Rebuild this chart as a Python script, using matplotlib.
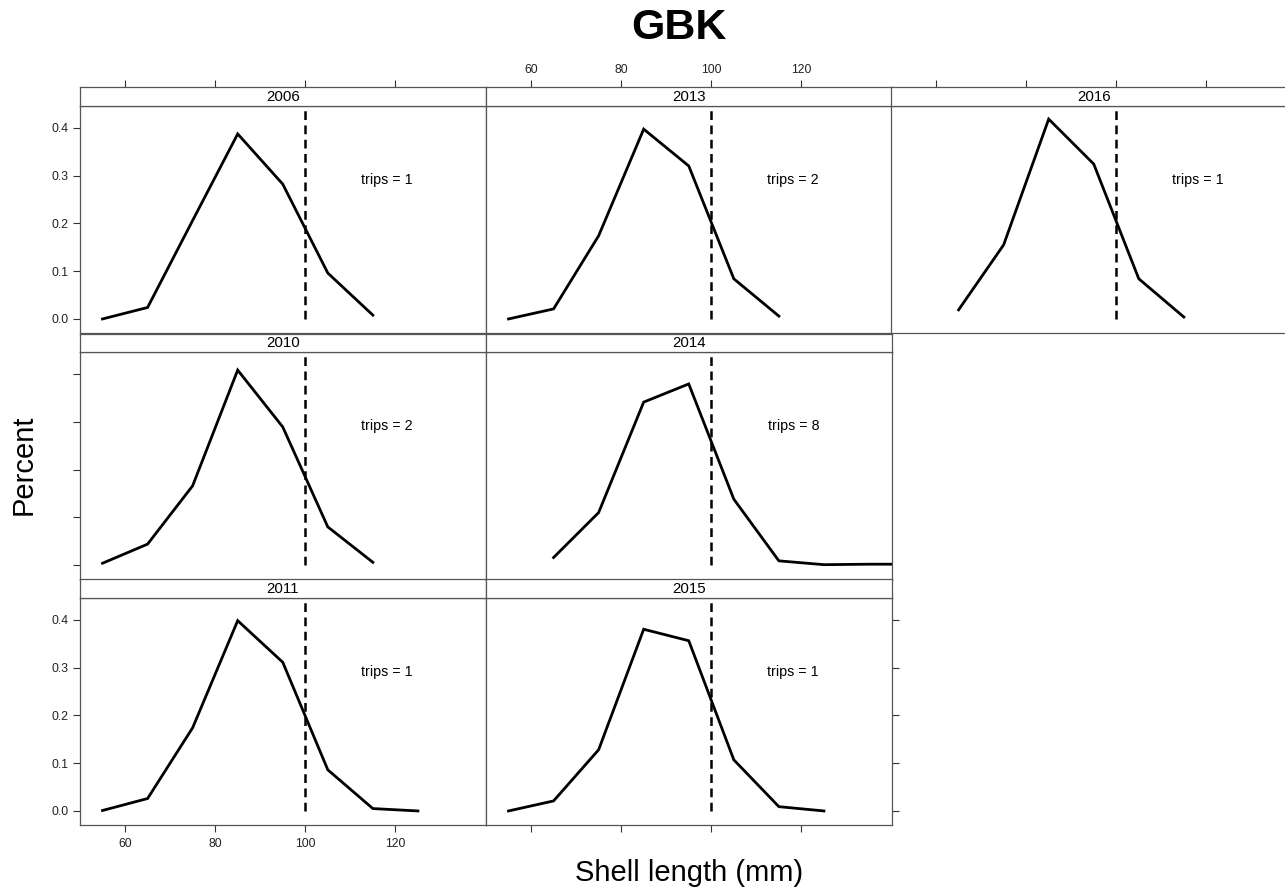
import numpy as np
import matplotlib
matplotlib.use("Agg")
from matplotlib import pyplot as plt

plt.rcParams['font.family'] = ['Liberation Sans', 'DejaVu Sans']

# shell length bin midpoints (mm) and proportion per year
len_2006 = [55, 65, 75, 85, 95, 105, 115]
pct_2006 = [0.000, 0.024, 0.206, 0.387, 0.282, 0.096, 0.008]
len_2010 = [55, 65, 75, 85, 95, 105, 115]
pct_2010 = [0.004, 0.044, 0.166, 0.408, 0.289, 0.080, 0.006]
len_2011 = [55, 65, 75, 85, 95, 105, 115, 125]
pct_2011 = [0.001, 0.026, 0.174, 0.398, 0.311, 0.086, 0.005, 0.000]
len_2013 = [55, 65, 75, 85, 95, 105, 115]
pct_2013 = [0.000, 0.021, 0.174, 0.397, 0.320, 0.084, 0.006]
len_2014 = [65, 75, 85, 95, 105, 115, 125, 135, 145]
pct_2014 = [0.016, 0.110, 0.341, 0.379, 0.138, 0.009, 0.001, 0.002, 0.002]
len_2015 = [55, 65, 75, 85, 95, 105, 115, 125]
pct_2015 = [0.000, 0.021, 0.128, 0.380, 0.356, 0.107, 0.009, 0.000]
len_2016 = [65, 75, 85, 95, 105, 115]
pct_2016 = [0.019, 0.155, 0.418, 0.324, 0.084, 0.004]

years = ["2006", "2010", "2011", "2013", "2014", "2015", "2016"]
trips = [1, 2, 1, 2, 8, 1, 1]
lengths = [len_2006, len_2010, len_2011, len_2013, len_2014, len_2015, len_2016]
pcts = [pct_2006, pct_2010, pct_2011, pct_2013, pct_2014, pct_2015, pct_2016]
# (column, row) of each panel, lattice order
cells = [(0, 0), (0, 1), (0, 2), (1, 0), (1, 1), (1, 2), (2, 0)]

x_ticks = [60, 80, 100, 120]
y_ticks = [0.0, 0.1, 0.2, 0.3, 0.4]
cutoff = 100

W, H = 1285, 894
fig = plt.figure(figsize=(W / 100, H / 100), dpi=100)


def box(l, t, w, h):
    return [l / W, 1 - (t + h) / H, w / W, h / H]


col_left = [80, 486, 891]
col_w = 405.5
strip_top = [87.3, 333.5, 579.3]
strip_h = 18.4
panel_h = 227.6
frame_col = '#555555'
tick_kw = dict(direction='out', length=5, width=0.8, color='#333333',
               labelsize=8.8, labelcolor='#222222')

for i, (c, r) in enumerate(cells):
    ax = fig.add_axes(box(col_left[c], strip_top[r] + strip_h, col_w, panel_h))
    st = fig.add_axes(box(col_left[c], strip_top[r], col_w, strip_h))

    ax.plot(lengths[i], pcts[i], color='black', lw=2.0, solid_joinstyle='miter')
    ax.plot([cutoff, cutoff], [0, 0.5], color='black', lw=1.8,
            dashes=(3.5, 2.2))
    ax.text(118.2, 0.29, "trips = %d" % trips[i], ha='center', va='center',
            fontsize=10.3)
    ax.set_xlim(50, 140)
    ax.set_ylim(-0.03, 0.446)

    for a in (ax, st):
        for s in a.spines.values():
            s.set_color(frame_col)
            s.set_linewidth(0.9)
        a.set_facecolor('white')

    # strip
    st.set_xlim(50, 140)
    st.set_ylim(0, 1)
    st.set_yticks([])
    st.text(0.5, 0.48, years[i], transform=st.transAxes, ha='center',
            va='center', fontsize=10.8)
    if r == 0:
        st.xaxis.set_ticks_position('top')
        st.set_xticks(x_ticks)
        st.tick_params(axis='x', pad=3, labeltop=(c == 1), labelbottom=False,
                       **tick_kw)
    else:
        st.set_xticks([])

    # panel x axis
    if r == 2:
        ax.set_xticks(x_ticks)
        ax.tick_params(axis='x', pad=4, labelbottom=(c == 0), **tick_kw)
    else:
        ax.set_xticks([])

    # panel y axis
    if c == 0:
        ax.set_yticks(y_ticks)
        ax.set_yticklabels(["%.1f" % v for v in y_ticks])
        ax.tick_params(axis='y', pad=3, labelleft=(r != 1), **tick_kw)
    elif c == 1 and r == 2:
        ax.yaxis.set_ticks_position('right')
        ax.set_yticks(y_ticks)
        ax.tick_params(axis='y', labelright=False, **tick_kw)
    else:
        ax.set_yticks([])

fig.text(679 / W, 1 - 28 / H, "GBK", ha='center', va='center',
         fontsize=31, fontweight='bold')
fig.text(689 / W, 1 - 873 / H, "Shell length (mm)", ha='center', va='center',
         fontsize=21)
fig.text(24 / W, 1 - 465 / H, "Percent", ha='center', va='center',
         fontsize=21, rotation=90)

plt.savefig('out.png', dpi=100)
